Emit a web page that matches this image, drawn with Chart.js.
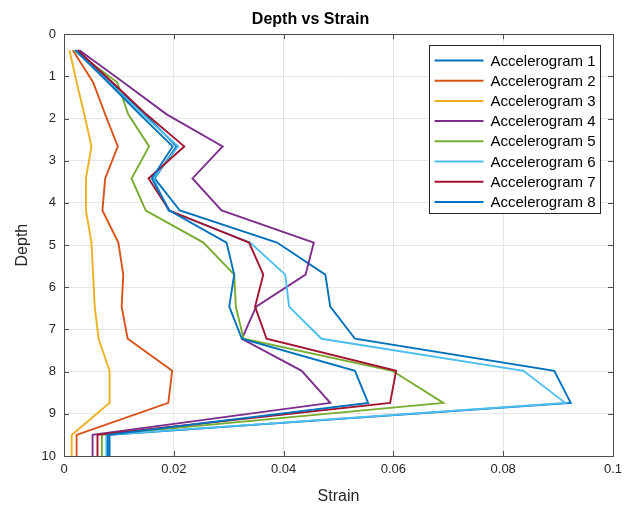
<!DOCTYPE html>
<html>
<head>
<meta charset="utf-8">
<script src="https://cdn.jsdelivr.net/npm/chart.js@4/dist/chart.umd.min.js"></script>
<style>
  html, body { margin: 0; padding: 0; background: #fff; }
  #wrap { width: 634px; height: 506px; position: relative; }
</style>
</head>
<body>
<div id="wrap"><canvas id="c" width="634" height="506"></canvas></div>
<script>
// Depth levels (y values) shared by all series
const depths = [0.38, 1.14, 1.9, 2.66, 3.42, 4.18, 4.94, 5.7, 6.46, 7.22, 7.98, 8.74, 9.5, 10];

// Strain values (x) for each accelerogram at the depths above
const accel1 = [0.0022, 0.0085, 0.0148, 0.0205, 0.0165, 0.0211, 0.0388, 0.0476, 0.0485, 0.0530, 0.0893, 0.0923, 0.0083, 0.0083];
const accel2 = [0.0016, 0.0053, 0.0075, 0.0098, 0.0075, 0.0070, 0.0099, 0.0108, 0.0105, 0.0116, 0.0197, 0.0190, 0.0023, 0.0023];
const accel3 = [0.0010, 0.0023, 0.0037, 0.0050, 0.0040, 0.0040, 0.0050, 0.0053, 0.0056, 0.0063, 0.0083, 0.0083, 0.0014, 0.0014];
const accel4 = [0.0028, 0.0108, 0.0187, 0.0289, 0.0234, 0.0287, 0.0455, 0.0440, 0.0350, 0.0324, 0.0433, 0.0485, 0.0052, 0.0052];
const accel5 = [0.0018, 0.0097, 0.0117, 0.0155, 0.0123, 0.0149, 0.0254, 0.0310, 0.0313, 0.0327, 0.0598, 0.0691, 0.0069, 0.0069];
const accel6 = [0.0020, 0.0082, 0.0143, 0.0208, 0.0163, 0.0190, 0.0339, 0.0403, 0.0410, 0.0469, 0.0837, 0.0913, 0.0077, 0.0077];
const accel7 = [0.0025, 0.0088, 0.0150, 0.0219, 0.0154, 0.0192, 0.0337, 0.0363, 0.0348, 0.0369, 0.0605, 0.0594, 0.0061, 0.0061];
const accel8 = [0.0021, 0.0080, 0.0138, 0.0198, 0.0160, 0.0192, 0.0296, 0.0310, 0.0301, 0.0324, 0.0530, 0.0554, 0.0080, 0.0080];

const seriesNames = ["Accelerogram 1", "Accelerogram 2", "Accelerogram 3", "Accelerogram 4",
                     "Accelerogram 5", "Accelerogram 6", "Accelerogram 7", "Accelerogram 8"];
const seriesValues = [accel1, accel2, accel3, accel4, accel5, accel6, accel7, accel8];
const seriesColors = ["#0072BD", "#D95319", "#EDB120", "#7E2F8E", "#77AC30", "#4DBEEE", "#A2142F", "#0072BD"];

// Tick values
const xTicks = [0, 0.02, 0.04, 0.06, 0.08, 0.1];
const yTicks = [0, 1, 2, 3, 4, 5, 6, 7, 8, 9, 10];

const FONT = "'Liberation Sans', Arial, sans-serif";
const TXT = "#262626";

const datasets = seriesValues.map((vals, i) => ({
  label: seriesNames[i],
  data: vals.map((v, k) => ({ x: v, y: depths[k] })),
  borderColor: seriesColors[i],
  backgroundColor: seriesColors[i],
  borderWidth: 1.9,
  pointRadius: 0,
  showLine: true,
  fill: false,
  tension: 0,
  order: seriesValues.length - i
}));

// Box, inward ticks and legend drawn like a MATLAB axes
const matlabAxes = {
  id: 'matlabAxes',
  afterDraw(chart) {
    const ctx = chart.ctx;
    const a = chart.chartArea;
    const xs = chart.scales.x, ys = chart.scales.y;
    ctx.save();
    ctx.strokeStyle = '#4d4d4d';
    ctx.lineWidth = 1;
    ctx.strokeRect(Math.round(a.left) + 0.5, Math.round(a.top) + 0.5,
                   Math.round(a.right - a.left), Math.round(a.bottom - a.top));
    const tl = 5;
    ctx.beginPath();
    xTicks.forEach(t => {
      const px = Math.round(xs.getPixelForValue(t)) + 0.5;
      ctx.moveTo(px, a.bottom); ctx.lineTo(px, a.bottom - tl);
      ctx.moveTo(px, a.top); ctx.lineTo(px, a.top + tl);
    });
    yTicks.forEach(t => {
      const py = Math.round(ys.getPixelForValue(t)) + 0.5;
      ctx.moveTo(a.left, py); ctx.lineTo(a.left + tl, py);
      ctx.moveTo(a.right, py); ctx.lineTo(a.right - tl, py);
    });
    ctx.stroke();

    // legend
    const bw = 171, bh = 168;
    const bx = Math.round(a.right - 13 - bw) + 0.5, by = Math.round(a.top + 11) + 0.5;
    ctx.fillStyle = '#fff';
    ctx.fillRect(bx, by, bw, bh);
    ctx.strokeStyle = '#262626';
    ctx.lineWidth = 1;
    ctx.strokeRect(bx, by, bw, bh);
    ctx.font = '15px ' + FONT;
    ctx.textBaseline = 'middle';
    ctx.textAlign = 'left';
    chart.data.datasets.forEach((ds, i) => {
      const cy = by + 15 + i * 20.2;
      ctx.strokeStyle = ds.borderColor;
      ctx.lineWidth = 2;
      ctx.beginPath();
      ctx.moveTo(bx + 5, cy); ctx.lineTo(bx + 54, cy);
      ctx.stroke();
      ctx.fillStyle = '#000';
      ctx.fillText(ds.label, bx + 61, cy + 1);
    });
    ctx.restore();
  }
};

new Chart(document.getElementById('c'), {
  type: 'scatter',
  data: { datasets },
  options: {
    responsive: false,
    animation: false,
    layout: { padding: { left: 8, right: 21, top: 0, bottom: 0 } },
    plugins: {
      legend: { display: false },
      tooltip: { enabled: false },
      title: {
        display: true,
        text: 'Depth vs Strain',
        color: '#000',
        font: { family: FONT, size: 16, weight: 'bold' },
        padding: { top: 10, bottom: 5 }
      }
    },
    scales: {
      x: {
        type: 'linear',
        min: 0, max: 0.1,
        afterBuildTicks(scale) { scale.ticks = xTicks.map(v => ({ value: v })); },
        afterFit(scale) { scale.height = 50; },
        ticks: {
          color: TXT,
          font: { family: FONT, size: 13 },
          padding: 6,
          maxRotation: 0,
          callback: v => String(+v.toFixed(2))
        },
        grid: { color: '#e6e6e6', drawTicks: false, lineWidth: 1 },
        border: { display: false },
        title: {
          display: true, text: 'Strain', color: TXT,
          font: { family: FONT, size: 16 },
          padding: { top: 8, bottom: 0 }
        }
      },
      y: {
        type: 'linear',
        reverse: true,
        min: 0, max: 10,
        afterBuildTicks(scale) { scale.ticks = yTicks.map(v => ({ value: v })); },
        afterFit(scale) { scale.width = 56; },
        ticks: {
          color: TXT,
          font: { family: FONT, size: 13 },
          padding: 8,
          callback: v => String(v)
        },
        grid: { color: '#e6e6e6', drawTicks: false, lineWidth: 1 },
        border: { display: false },
        title: {
          display: true, text: 'Depth', color: TXT,
          font: { family: FONT, size: 16 },
          padding: { top: 5, bottom: 0 }
        }
      }
    }
  },
  plugins: [matlabAxes]
});
</script>
</body>
</html>
